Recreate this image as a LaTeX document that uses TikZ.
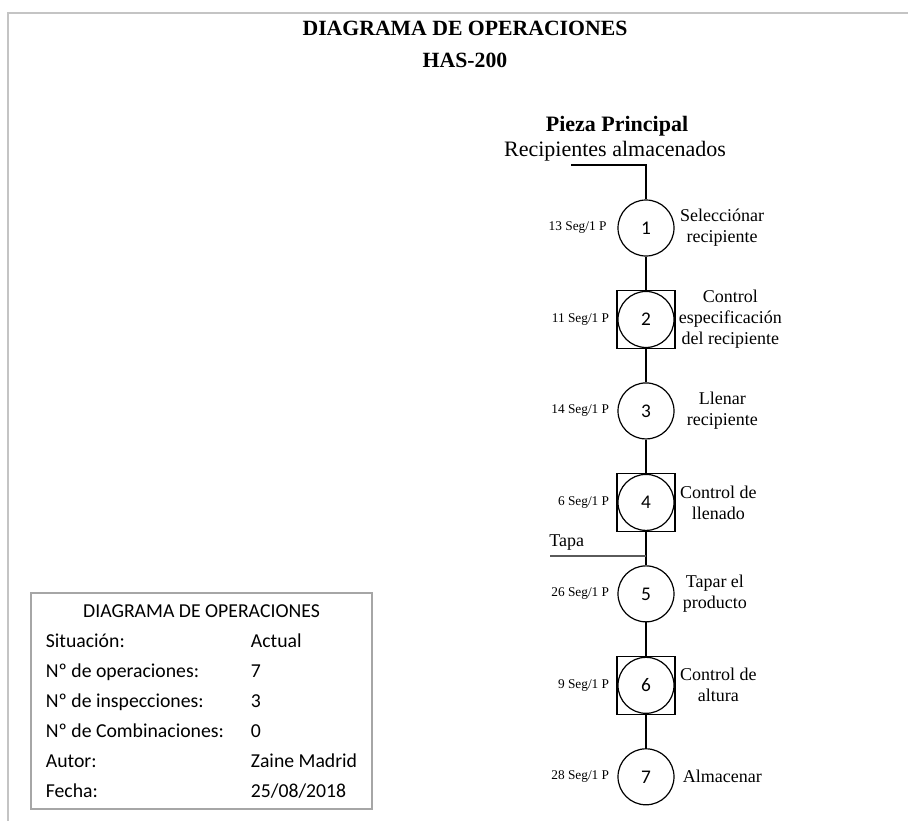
\documentclass[tikz,border=0pt]{standalone}
\usepackage{fontspec}
\setmainfont{Liberation Serif}
\newfontfamily\calibri{Carlito}
\usepackage{tikz}
\usetikzlibrary{positioning}
\definecolor{framegray}{RGB}{196,196,196}
\definecolor{boxgray}{RGB}{166,166,166}
\definecolor{tapagray}{RGB}{90,90,90}
\tikzset{
  op/.style={circle, draw, line width=0.9pt, minimum size=42pt, inner sep=0pt, font=\calibri\fontsize{14.5}{16}\selectfont},
  insp/.style={rectangle, draw, line width=0.9pt, minimum size=43.5pt, inner sep=0pt},
  tm/.style={inner sep=0pt, font=\fontsize{10}{12}\selectfont},
  lbl/.style={inner sep=0pt, align=center, font=\fontsize{13.5}{15.75}\selectfont},
  conn/.style={line width=0.9pt},
}
\begin{document}
\begin{tikzpicture}[x=0.75pt, y=-0.75pt, node distance=68.6pt]
  \useasboundingbox (0,0) rectangle (908,821);
  \draw[framegray, line width=1.5pt] (7.5,821) |- (908,12.5);

  % titulo
  \node[font=\bfseries\fontsize{16.3}{19}\selectfont] (title) at (465,28) {DIAGRAMA DE OPERACIONES};
  \node[font=\bfseries\fontsize{16.3}{19}\selectfont] (code) at (465,60) {HAS-200};
  \node[font=\bfseries\fontsize{16.5}{19}\selectfont] (pieza) at (617,126) {Pieza Principal};
  \node[font=\fontsize{16.5}{19}\selectfont] (recip) at (615,151) {Recipientes almacenados};

  % operaciones e inspecciones
  \node[op] (o1) at (646,228) {1};
  \node[op, on grid, below=of o1] (o2) {2};
  \node[insp] (s2) at (o2) {};
  \node[op, on grid, below=of o2] (o3) {3};
  \node[op, on grid, below=of o3] (o4) {4};
  \node[insp] (s4) at (o4) {};
  \node[op, on grid, below=of o4] (o5) {5};
  \node[op, on grid, below=of o5] (o6) {6};
  \node[insp] (s6) at (o6) {};
  \node[op, on grid, below=of o6] (o7) {7};

  % tiempos
  \node[tm, left=8pt of o1] (t1) {13 Seg/1 P};
  \node[tm, left=6pt of o2] (t2) {11 Seg/1 P};
  \node[tm, left=6pt of o3] (t3) {14 Seg/1 P};
  \node[tm, left=6pt of o4] (t4) {6 Seg/1 P};
  \node[tm, left=6pt of o5] (t5) {26 Seg/1 P};
  \node[tm, left=6pt of o6] (t6) {9 Seg/1 P};
  \node[tm, left=6pt of o7] (t7) {28 Seg/1 P};

  % descripciones
  \node[lbl, right=4pt of o1] (d1) {Selecciónar\\recipiente};
  \node[lbl, right=3pt of o2] (d2) {Control\\especificación\\del recipiente};
  \node[lbl, right=9pt of o3] (d3) {Llenar\\recipiente};
  \node[lbl, right=4pt of o4] (d4) {Control de\\llenado};
  \node[lbl, right=6pt of o5] (d5) {Tapar el\\producto};
  \node[lbl, right=4pt of o6] (d6) {Control de\\altura};
  \node[lbl, right=6pt of o7] (d7) {Almacenar};

  % conexiones
  \coordinate (in1) at (571,165);
  \draw[conn] (in1) -| (o1);
  \draw[conn] (o1) -- (s2);
  \draw[conn] (s2) -- (o3);
  \draw[conn] (o3) -- (s4);
  \draw[conn] (s4) -- (o5);
  \draw[conn] (o5) -- (s6);
  \draw[conn] (s6) -- (o7);
  \coordinate (tp) at (550,556);
  \draw[conn, tapagray] (tp) -- (tp -| o5);
  \node[lbl, anchor=west] (tapa) at (549,543) {Tapa};

  % cuadro resumen
  \node[draw=boxgray, line width=0.8pt, minimum width=255.75pt, minimum height=162pt, inner sep=0pt,
        font=\calibri\fontsize{14.8}{22.5}\selectfont] (info) at (201.5,701)
    {\begin{tabular}{@{}p{153.75pt}@{}l@{}}
      \multicolumn{2}{c}{DIAGRAMA DE OPERACIONES}\\
      Situación: & Actual\\
      Nº de operaciones: & 7\\
      Nº de inspecciones: & 3\\
      Nº de Combinaciones: & 0\\
      Autor: & Zaine Madrid\\
      Fecha: & 25/08/2018
    \end{tabular}};
\end{tikzpicture}
\end{document}
